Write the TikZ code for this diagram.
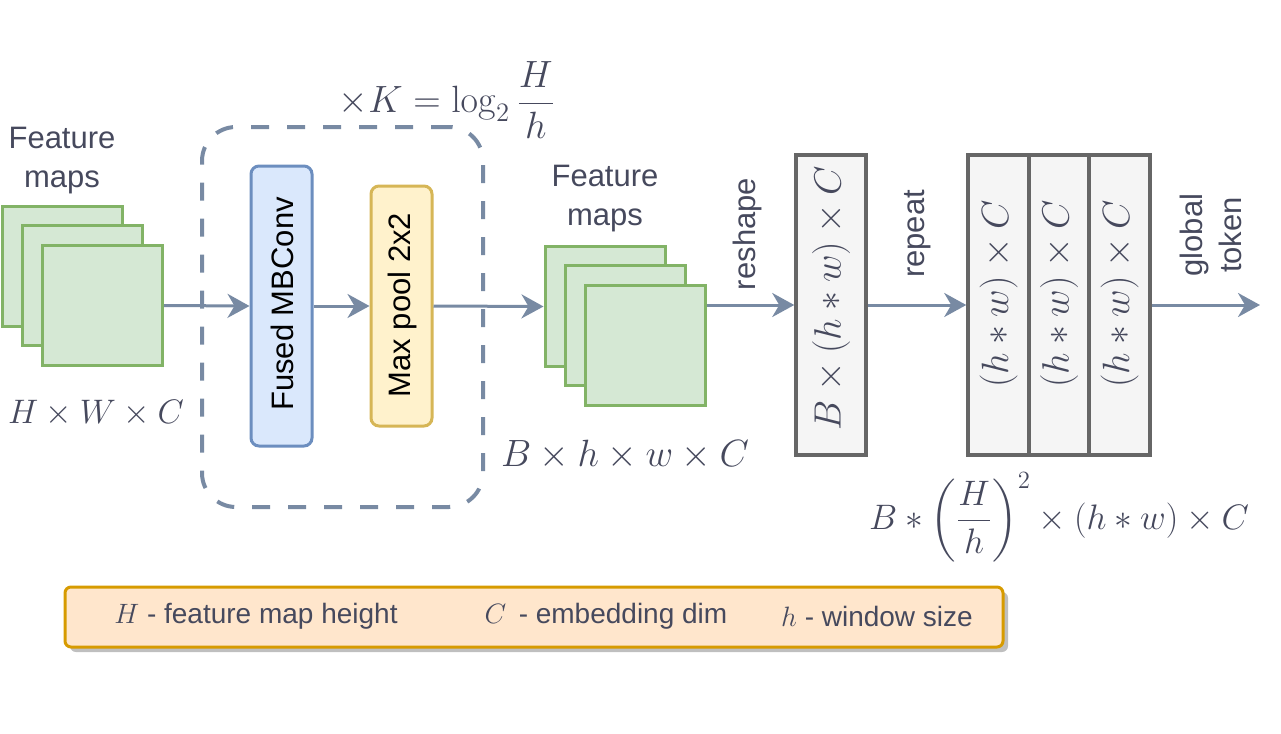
\RequirePackage{fix-cm}
\documentclass[tikz,border=0pt]{standalone}
\usepackage{amsmath}
\usepackage[no-math]{fontspec}
\setmainfont{Liberation Sans}
\usetikzlibrary{arrows.meta,shadows}
\definecolor{txt}{HTML}{46495D}
\definecolor{arr}{HTML}{788AA3}
\definecolor{fmfill}{HTML}{D5E8D4}
\definecolor{fmline}{HTML}{82B366}
\definecolor{bluefill}{HTML}{DAE8FC}
\definecolor{blueline}{HTML}{6C8EBF}
\definecolor{yelfill}{HTML}{FFF2CC}
\definecolor{yelline}{HTML}{D6B656}
\definecolor{grayfill}{HTML}{F5F5F5}
\definecolor{grayline}{HTML}{666666}
\definecolor{legfill}{HTML}{FFE6CC}
\definecolor{legline}{HTML}{D79B00}

\begin{document}
\begin{tikzpicture}[x=0.5pt,y=-0.5pt,>={Stealth[length=11pt,width=12pt,inset=3.5pt]},
    fmap/.style={draw=fmline,fill=fmfill,line width=1.5pt,minimum size=60pt,inner sep=0pt},
    block/.style={rounded corners=4pt,line width=1.5pt,minimum width=30.5pt,inner sep=0pt},
    tensor/.style={draw=grayline,fill=grayfill,line width=1.75pt,minimum height=150pt,inner sep=0pt},
    flow/.style={->,draw=arr,line width=1.5pt},
    lbl/.style={text=txt,font=\fontsize{15.5pt}{19.5pt}\selectfont,align=center},
    mth/.style={text=txt,font=\fontsize{19pt}{23pt}\selectfont},
    legtxt/.style={text=txt,font=\fontsize{14pt}{17pt}\selectfont}]
  \useasboundingbox (0,0) rectangle (1281,734);

  \node[fmap] (fmA1) at (62.5,266) {};
  \node[fmap] (fmA2) at (82.5,285.5) {};
  \node[fmap] (fmA3) at (102.5,305.5) {};
  \node[lbl] (fmAlbl) at (62,161) {Feature\\maps};
  \node[mth,font=\fontsize{17pt}{21pt}\selectfont] (fmAdim) at (96,413) {$H\times W\times C$};

  \node[draw=arr,line width=2pt,dash pattern=on 9pt off 9pt,rounded corners=17pt,
        minimum width=140.5pt,minimum height=190pt] (loopbox) at (342.5,317) {};
  \node[mth] (kform) at (447,100) {$\times K=\log_2\dfrac{H}{h}$};

  \node[block,draw=blueline,fill=bluefill,minimum height=140pt] (fused) at (281.5,306) {};
  \node[lbl,text=black,rotate=90] (fusedlbl) at (282,304) {Fused MBConv};
  \node[block,draw=yelline,fill=yelfill,minimum height=120pt] (pool) at (401.5,306) {};
  \node[lbl,text=black,rotate=90] (poollbl) at (402,305) {Max pool 2x2};

  \node[fmap] (fmB1) at (605,306.5) {};
  \node[fmap] (fmB2) at (625,325.5) {};
  \node[fmap] (fmB3) at (645,345.5) {};
  \node[lbl] (fmBlbl) at (605,199) {Feature\\maps};
  \node[mth] (fmBdim) at (625,455) {$B\times h\times w\times C$};

  \node[tensor,minimum width=35pt] (tens) at (831,305) {};
  \node[mth,rotate=90] (tenslbl) at (831,298) {$B\times(h*w)\times C$};

  \node[tensor,minimum width=30.5pt] (rep1) at (998.5,305) {};
  \node[tensor,minimum width=30pt] (rep2) at (1059,305) {};
  \node[tensor,minimum width=30.5pt] (rep3) at (1119.5,305) {};
  \foreach \r in {rep1,rep2,rep3}
    \node[mth,rotate=90] at ([yshift=5.5pt]\r.center) {$(h*w)\times C$};
  \node[mth,font=\fontsize{17.7pt}{21pt}\selectfont] (repdim) at (1059,517) {$B*\left(\dfrac{H}{h}\right)^{2}\times(h*w)\times C$};

  \node[lbl,rotate=90] (reshapelbl) at (747,234) {reshape};
  \node[lbl,rotate=90] (repeatlbl) at (918,234) {repeat};
  \node[lbl,rotate=90] (tokenlbl) at (1211,235) {global\\token};
  \coordinate (tokenend) at (1260,305);

  \draw[flow] (fmA3.east) -- (fused.west);
  \draw[flow] (fused.east) -- (pool.west);
  \draw[flow] (pool.east) -- (fmB1.west);
  \draw[flow] (fmB3.east |- tens.west) -- (tens.west);
  \draw[flow] (tens.east) -- (rep1.west);
  \draw[flow] (rep3.east) -- (tokenend);

  \node[draw=legline,fill=legfill,line width=1.5pt,rounded corners=3pt,
        minimum width=469pt,minimum height=30pt,
        drop shadow={shadow xshift=2.5pt,shadow yshift=-2.5pt,fill=black!25,opacity=1}] (legend) at (534,617) {};
  \node[legtxt] (legH) at (256,616) {$H$ - feature map height};
  \node[legtxt] (legC) at (606,616) {$C$ \,- embedding dim};
  \node[legtxt] (legh) at (877,616) {$h$ - window size};
\end{tikzpicture}
\end{document}
